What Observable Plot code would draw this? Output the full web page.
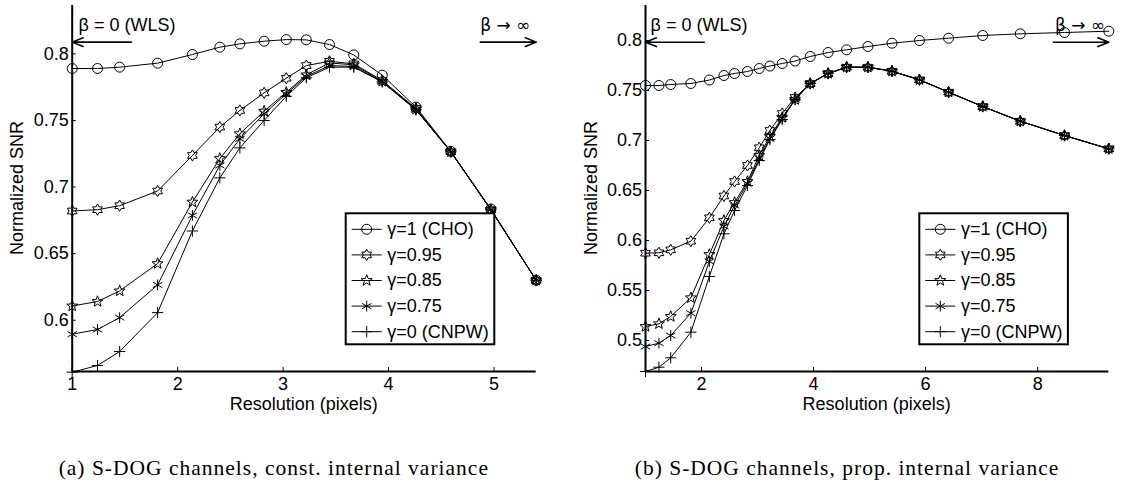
<!DOCTYPE html>
<html><head><meta charset="utf-8">
<script src="https://cdn.jsdelivr.net/npm/d3@7"></script>
<script src="https://cdn.jsdelivr.net/npm/@observablehq/plot@0.6"></script>
<style>
html,body{margin:0;padding:0;background:#fff;}
#root{position:relative;width:1121px;height:486px;overflow:hidden;background:#fff;}
.panel{position:absolute;top:0;}
.cap{position:absolute;font-family:"Liberation Serif","Times New Roman",serif;font-size:21.5px;letter-spacing:1px;line-height:22px;white-space:nowrap;transform:translateX(-50%);color:#000;}
</style></head><body><div id="root"></div>
<script>
// ---------- data ----------
const seriesNames = ["γ=1 (CHO)", "γ=0.95", "γ=0.85", "γ=0.75", "γ=0 (CNPW)"];
const yLabel = "Normalized SNR";
const xLabel = "Resolution (pixels)";
const captionA = "(a) S-DOG channels, const. internal variance";
const captionB = "(b) S-DOG channels, prop. internal variance";
const betaLabels = ["β = 0 (WLS)", "β → ∞"];

// panel (a): constant internal variance
const resA = [1.00, 1.24, 1.45, 1.81, 2.14, 2.40, 2.59, 2.82, 3.03, 3.22, 3.44, 3.67, 3.94, 4.26, 4.59, 4.97, 5.40];
const snrA_cho  = [0.789, 0.789, 0.790, 0.793, 0.7995, 0.805, 0.8075, 0.8095, 0.8107, 0.8105, 0.807, 0.7992, 0.784, 0.760, 0.7268, 0.6835, 0.630];
const snrA_g095 = [0.682, 0.683, 0.686, 0.697, 0.7237, 0.745, 0.7575, 0.7707, 0.7817, 0.7912, 0.7944, 0.7925, 0.780, 0.759, 0.7265, 0.683, 0.630];
const snrA_g085 = [0.6107, 0.614, 0.622, 0.6425, 0.6887, 0.7214, 0.740, 0.757, 0.7711, 0.7842, 0.7932, 0.7917, 0.7794, 0.7585, 0.7265, 0.683, 0.630];
const snrA_g075 = [0.5895, 0.593, 0.602, 0.6265, 0.6787, 0.7162, 0.7362, 0.755, 0.770, 0.783, 0.7912, 0.7905, 0.779, 0.758, 0.7265, 0.683, 0.630];
const snrA_cnpw = [0.561, 0.566, 0.5765, 0.6057, 0.667, 0.7069, 0.7294, 0.750, 0.7681, 0.782, 0.790, 0.790, 0.7789, 0.758, 0.7265, 0.683, 0.630];
const xTicksA = [1, 2, 3, 4, 5];
const xTickLabelsA = ["1", "2", "3", "4", "5"];
const yTicksA = [0.6, 0.65, 0.7, 0.75, 0.8];
const yTickLabelsA = ["0.6", "0.65", "0.7", "0.75", "0.8"];
const xDomainA = [1, 5.4];
const yDomainA = [0.5615, 0.8363];

// panel (b): proportional internal variance
const resB = [1.00, 1.24, 1.45, 1.81, 2.14, 2.40, 2.59, 2.82, 3.03, 3.22, 3.44, 3.67, 3.94, 4.26, 4.59, 4.97, 5.40, 5.89, 6.41, 7.02, 7.69, 8.48, 9.27];
const snrB_cho  = [0.755, 0.755, 0.756, 0.757, 0.7605, 0.765, 0.767, 0.769, 0.772, 0.7745, 0.777, 0.7795, 0.784, 0.788, 0.7907, 0.794, 0.7973, 0.800, 0.8023, 0.805, 0.8067, 0.808, 0.8093];
const snrB_g095 = [0.5873, 0.5877, 0.5907, 0.5993, 0.6227, 0.6445, 0.659, 0.675, 0.6927, 0.710, 0.727, 0.743, 0.757, 0.767, 0.7733, 0.7733, 0.7693, 0.7607, 0.7483, 0.734, 0.7193, 0.705, 0.6917];
const snrB_g085 = [0.514, 0.5167, 0.524, 0.5427, 0.586, 0.620, 0.638, 0.659, 0.685, 0.704, 0.723, 0.741, 0.757, 0.767, 0.7733, 0.7733, 0.7693, 0.7607, 0.7483, 0.734, 0.7193, 0.705, 0.6917];
const snrB_g075 = [0.494, 0.4973, 0.505, 0.5273, 0.579, 0.614, 0.635, 0.657, 0.682, 0.702, 0.722, 0.741, 0.757, 0.767, 0.7733, 0.7733, 0.7693, 0.7607, 0.7483, 0.734, 0.7193, 0.705, 0.6917];
const snrB_cnpw = [0.469, 0.4733, 0.4827, 0.5083, 0.564, 0.6067, 0.630, 0.655, 0.680, 0.701, 0.721, 0.741, 0.757, 0.767, 0.7733, 0.7733, 0.7693, 0.7607, 0.7483, 0.734, 0.7193, 0.705, 0.6917];
const xTicksB = [2, 4, 6, 8];
const xTickLabelsB = ["2", "4", "6", "8"];
const yTicksB = [0.5, 0.55, 0.6, 0.65, 0.7, 0.75, 0.8];
const yTickLabelsB = ["0.5", "0.55", "0.6", "0.65", "0.7", "0.75", "0.8"];
const xDomainB = [1, 9.27];
const yDomainB = [0.469, 0.835];

// annotation arrows and labels (data units)
const arrowsA = [{x1: 1.56, x2: 1.0, y: 0.8088}, {x1: 4.87, x2: 5.4, y: 0.8088}];
const notesA = [{x: 1.06, y: 0.8212, text: betaLabels[0]}, {x: 4.87, y: 0.8212, text: betaLabels[1]}];
const arrowsB = [{x1: 2.05, x2: 1.0, y: 0.7983}, {x1: 8.28, x2: 9.27, y: 0.7983}];
const notesB = [{x: 1.09, y: 0.815, text: betaLabels[0]}, {x: 8.31, y: 0.815, text: betaLabels[1]}];

// ---------- symbols ----------
const starPoly = (n, ratio) => ({
  draw(ctx, size) {
    const R = Math.sqrt(size / Math.PI), r = R * ratio;
    for (let i = 0; i < 2 * n; i++) {
      const a = -Math.PI / 2 + i * Math.PI / n, rr = i % 2 ? r : R;
      const x = rr * Math.cos(a), y = rr * Math.sin(a);
      i ? ctx.lineTo(x, y) : ctx.moveTo(x, y);
    }
    ctx.closePath();
  }
});
const hexagram = starPoly(6, 1 / Math.sqrt(3));
const pentagram = starPoly(5, 0.42);
const asterisk6 = {
  draw(ctx, size) {
    const R = Math.sqrt(size / Math.PI);
    for (const deg of [90, 30, 150]) {
      const a = deg * Math.PI / 180, x = R * Math.cos(a), y = R * Math.sin(a);
      ctx.moveTo(-x, -y); ctx.lineTo(x, y);
    }
  }
};
const plusSym = {
  draw(ctx, size) {
    const R = Math.sqrt(size / Math.PI);
    ctx.moveTo(-R, 0); ctx.lineTo(R, 0); ctx.moveTo(0, -R); ctx.lineTo(0, R);
  }
};
const symbols = ["circle", hexagram, pentagram, asterisk6, plusSym];
const radii = [5, 5.6, 5.8, 5.4, 5.6];

const FONT = "'Liberation Sans', Arial, Helvetica, sans-serif";

function panel(cfg) {
  const {xs, ys, xDomain, yDomain, xTicks, xTickLabels, yTicks, yTickLabels,
         width, height, marginLeft, marginRight, marginTop, marginBottom,
         arrows, notes, legendLeft, legendTop} = cfg;
  const xFmt = new Map(xTicks.map((t, i) => [t, xTickLabels[i]]));
  const yFmt = new Map(yTicks.map((t, i) => [t, yTickLabels[i]]));
  const marks = [
    Plot.ruleX([xDomain[0]], {stroke: "black", strokeWidth: 2}),
    Plot.ruleY([yDomain[0]], {stroke: "black", strokeWidth: 2}),
    Plot.axisX({ticks: xTicks, tickFormat: d => xFmt.get(d), tickSize: -4, tickPadding: 10, label: null, fontSize: 18}),
    Plot.axisY({ticks: yTicks, tickFormat: d => yFmt.get(d), tickSize: -4, tickPadding: 7.5, label: null, fontSize: 18})
  ];
  ys.forEach((arr, s) => {
    const d = arr.map((v, i) => ({x: xs[i], y: v}));
    marks.push(Plot.line(d, {x: "x", y: "y", stroke: "black", strokeWidth: 1}));
    marks.push(Plot.dot(d, {x: "x", y: "y", symbol: symbols[s], r: radii[s], stroke: "black", strokeWidth: 1, fill: "none"}));
  });
  marks.push(Plot.arrow(arrows, {x1: "x1", x2: "x2", y1: "y", y2: "y", stroke: "black", strokeWidth: 1.6, headLength: 11, headAngle: 44}));
  marks.push(Plot.text(notes.slice(0, 1), {x: "x", y: "y", text: "text", textAnchor: "start", fontSize: 18, fill: "black"}));
  marks.push(Plot.text(notes.slice(1), {x: "x", y: "y", text: "text", textAnchor: "start", fontSize: 17, fill: "black", fontFamily: "'DejaVu Sans', sans-serif"}));
  const svg = Plot.plot({
    width, height, marginLeft, marginRight, marginTop, marginBottom,
    x: {domain: xDomain}, y: {domain: yDomain},
    style: {fontFamily: FONT, fontSize: "18px", color: "black", background: "white", overflow: "visible"},
    marks
  });
  const g = d3.select(svg);
  const fy = (marginTop + height - marginBottom) / 2;
  // axis titles
  g.append("text").attr("transform", `translate(${marginLeft - 54.4},${fy}) rotate(-90)`)
    .attr("text-anchor", "middle").attr("dominant-baseline", "central")
    .attr("font-family", FONT).attr("font-size", 18).attr("fill", "black").text(yLabel);
  g.append("text").attr("x", (marginLeft + width - marginRight) / 2).attr("y", height - marginBottom + 39)
    .attr("text-anchor", "middle").attr("font-family", FONT).attr("font-size", 18).attr("fill", "black").text(xLabel);
  // legend
  const lw = 148.6, rowH = 25.6, lh = 131;
  const lg = g.append("g").attr("transform", `translate(${legendLeft},${legendTop})`);
  lg.append("rect").attr("width", lw).attr("height", lh).attr("fill", "white").attr("stroke", "black").attr("stroke-width", 2);
  seriesNames.forEach((name, s) => {
    const cy = 16 + s * rowH;
    lg.append("line").attr("x1", 6).attr("x2", 36).attr("y1", cy).attr("y2", cy).attr("stroke", "black").attr("stroke-width", 1);
    const sym = symbols[s] === "circle" ? d3.symbolCircle : symbols[s];
    lg.append("path").attr("transform", `translate(21,${cy})`)
      .attr("d", d3.symbol(sym, radii[s] * radii[s] * Math.PI)())
      .attr("fill", "none").attr("stroke", "black").attr("stroke-width", 1);
    lg.append("text").attr("x", 41.6).attr("y", cy).attr("text-anchor", "start").attr("dominant-baseline", "central")
      .attr("font-family", FONT).attr("font-size", 18).attr("fill", "black").text(name);
  });
  return svg;
}

const root = document.getElementById("root");
const pa = document.createElement("div"); pa.className = "panel"; pa.style.left = "0px"; pa.style.width = "560px";
const pb = document.createElement("div"); pb.className = "panel"; pb.style.left = "560px"; pb.style.width = "561px";
root.append(pa, pb);

pa.append(panel({
  xs: resA, ys: [snrA_cho, snrA_g095, snrA_g085, snrA_g075, snrA_cnpw],
  xDomain: xDomainA, yDomain: yDomainA, xTicks: xTicksA, xTickLabels: xTickLabelsA,
  yTicks: yTicksA, yTickLabels: yTickLabelsA,
  width: 560, height: 420, marginLeft: 71.7, marginRight: 24.3, marginTop: 5, marginBottom: 49,
  arrows: arrowsA, notes: notesA, legendLeft: 345.7, legendTop: 213.3
}));
pb.append(panel({
  xs: resB, ys: [snrB_cho, snrB_g095, snrB_g085, snrB_g075, snrB_cnpw],
  xDomain: xDomainB, yDomain: yDomainB, xTicks: xTicksB, xTickLabels: xTickLabelsB,
  yTicks: yTicksB, yTickLabels: yTickLabelsB,
  width: 561, height: 420, marginLeft: 85, marginRight: 12.7, marginTop: 5, marginBottom: 49,
  arrows: arrowsB, notes: notesB, legendLeft: 359.3, legendTop: 213.3
}));

const ca = document.createElement("div"); ca.className = "cap"; ca.style.left = "273.8px"; ca.style.top = "457px"; ca.textContent = captionA;
const cb = document.createElement("div"); cb.className = "cap"; cb.style.left = "847px"; cb.style.top = "457px"; cb.textContent = captionB;
root.append(ca, cb);
</script></body></html>
